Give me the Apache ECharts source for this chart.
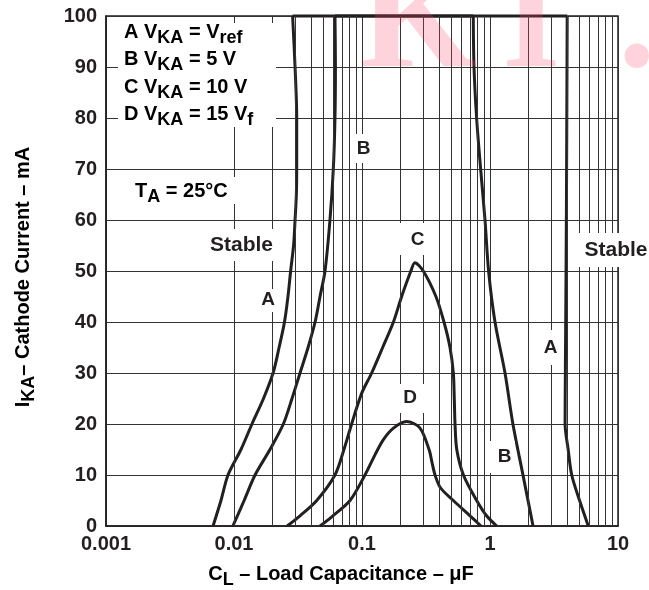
<!DOCTYPE html>
<html>
<head>
<meta charset="utf-8">
<script src="https://cdn.jsdelivr.net/npm/echarts@6/dist/echarts.min.js"></script>
<style>
  html, body { margin: 0; padding: 0; background: #fff; }
  #chart { width: 649px; height: 590px; }
</style>
</head>
<body>
<div id="chart"></div>
<script>
// decades on the log axis and their labels
const xTicks = [0.001, 0.01, 0.1, 1, 10];
const xTickLabels = ['0.001', '0.01', '0.1', '1', '10'];
const minorSteps = [2, 3, 4, 5, 6, 7, 8, 9];

// stability boundaries [C (uF), I (mA)]
const aLeft = [[0.00686, 0], [0.00791, 5], [0.00898, 10], [0.01134, 15], [0.01382, 20], [0.0170, 25],
  [0.0202, 30], [0.0225, 35], [0.0248, 40], [0.0264, 45], [0.0277, 50], [0.0292, 55], [0.0300, 60],
  [0.0307, 65], [0.0309, 70], [0.0309, 80], [0.0300, 90], [0.0287, 100]];
const aRight = [[4.01, 100], [3.95, 60], [3.88, 30], [3.86, 20], [4.08, 15], [4.35, 10], [5.01, 5], [5.86, 0]];
const bLeft = [[0.0098, 0], [0.0120, 5], [0.0146, 10], [0.0191, 15], [0.0243, 20], [0.0284, 25],
  [0.0328, 30], [0.0379, 35], [0.0430, 40], [0.0470, 45], [0.0514, 50], [0.0562, 60], [0.0597, 70],
  [0.0615, 80], [0.0620, 90], [0.0615, 100]];
const bRight = [[0.740, 100], [0.750, 90], [0.786, 80], [0.845, 70], [0.914, 60], [0.975, 50],
  [1.094, 40], [1.31, 30], [1.51, 20], [1.81, 10], [2.17, 0]];
const cCurve = [[0.0260, 0], [0.0328, 2], [0.0443, 5], [0.0615, 10], [0.0723, 15], [0.083, 20],
  [0.0994, 26], [0.119, 30], [0.145, 35], [0.176, 40], [0.204, 45], [0.241, 50], [0.259, 51.6],
  [0.301, 50], [0.378, 45], [0.437, 40], [0.487, 35], [0.517, 30], [0.526, 25], [0.533, 20],
  [0.550, 15], [0.620, 10], [0.787, 5], [0.94, 2], [1.128, 0]];
const dCurve = [[0.047, 0], [0.058, 1.8], [0.0806, 5], [0.1055, 10], [0.126, 13.9], [0.1465, 16.9],
  [0.176, 19.2], [0.223, 20.5], [0.284, 19.2], [0.336, 14.8], [0.352, 12.5], [0.372, 10], [0.41, 7.5],
  [0.517, 5], [0.698, 2], [0.85, 0]];

const INK = '#231f20';
const FONT = '"Liberation Sans", Arial, sans-serif';

const minorX = [];
xTicks.slice(0, -1).forEach(d => minorSteps.forEach(m => minorX.push(+(d * m).toPrecision(3))));

function curve(data, extra) {
  return Object.assign({
    type: 'line', data: data, showSymbol: false, smooth: 0.3, clip: false, silent: true,
    lineStyle: { color: INK, width: 3 }, z: 3
  }, extra || {});
}

// rich styles: n = normal text, s = subscript; padding pushes s down relative to n
function richStyles(size) {
  return {
    n: { fontSize: size, fontWeight: 'bold', fontFamily: FONT, color: INK, padding: [0, 0, 7, 0], verticalAlign: 'top' },
    s: { fontSize: size - 2, fontWeight: 'bold', fontFamily: FONT, color: INK, padding: [7, 0, 0, 0], verticalAlign: 'top' }
  };
}
const rich = richStyles(20);
const richTitle = richStyles(20);

function box(x, y, w, h) {
  return { type: 'rect', z: 50, silent: true, shape: { x: x, y: y, width: w, height: h }, style: { fill: '#fff' } };
}
function label(x, y, text, size) {
  return { type: 'text', z: 60, silent: true, x: x, y: y,
    style: { text: text, fill: INK, font: 'bold ' + size + 'px ' + FONT, align: 'center', verticalAlign: 'middle' } };
}
function richLabel(x, yMid, text) {
  return { type: 'text', z: 60, silent: true, x: x, y: yMid - 10,
    style: { text: text, rich: rich, align: 'left', verticalAlign: 'top' } };
}
function title(x, y, text, rotation) {
  return { type: 'text', z: 60, silent: true, x: x, y: y, rotation: rotation,
    style: { text: text, rich: richTitle, align: 'center', verticalAlign: 'middle' } };
}
function mark(x, ch) {
  return { type: 'text', z: 100, silent: true, x: x, y: -48,
    style: { text: ch, fill: 'rgba(255, 70, 105, 0.24)', font: 'bold 150px "Liberation Serif", serif',
      align: 'left', verticalAlign: 'top' } };
}

const chart = echarts.init(document.getElementById('chart'));
chart.setOption({
  animation: false,
  grid: { left: 106, right: 31, top: 16, bottom: 64, show: true, borderColor: INK, borderWidth: 1.5,
    outerBoundsMode: 'none' },
  xAxis: {
    type: 'log', logBase: 10, min: xTicks[0], max: xTicks[xTicks.length - 1],
    axisLine: { show: true, lineStyle: { color: INK, width: 1.5 } },
    axisTick: { show: false },
    splitLine: { show: true, lineStyle: { color: '#333', width: 1 } },
    axisLabel: {
      color: INK, fontSize: 20, fontWeight: 'bold', fontFamily: FONT, margin: 8,
      formatter: v => xTickLabels[Math.round(Math.log10(v)) + 3]
    }
  },
  yAxis: {
    type: 'value', min: 0, max: 100, interval: 10,
    axisLine: { show: true, lineStyle: { color: INK, width: 1.5 } },
    axisTick: { show: false },
    splitLine: { show: true, lineStyle: { color: '#333', width: 1 } },
    axisLabel: { color: INK, fontSize: 20, fontWeight: 'bold', fontFamily: FONT, margin: 9 }
  },
  series: [
    curve(aLeft, {
      markLine: {
        silent: true, symbol: 'none', animation: false,
        label: { show: false },
        lineStyle: { color: '#333', width: 1, type: 'solid' },
        data: minorX.map(v => ({ xAxis: v }))
      }
    }),
    curve([aLeft[aLeft.length - 1], aRight[0]], { smooth: false }),
    curve(aRight),
    curve(bLeft),
    curve([bLeft[bLeft.length - 1], bRight[0]], { smooth: false }),
    curve(bRight),
    curve(cCurve),
    curve(dCurve)
  ],
  graphic: [
    box(118, 23, 158, 104),
    box(131, 177, 105, 27),
    box(195, 229, 81, 32),
    box(258, 289, 19, 23),
    box(351, 134, 26, 29),
    box(399, 223, 34, 32),
    box(397, 384, 27, 29),
    box(486, 441, 29, 32),
    box(539, 330, 23, 35),
    box(578, 233, 71, 34),
    richLabel(124, 32.5, '{n|A V}{s|KA}{n| = V}{s|ref}'),
    richLabel(124, 59, '{n|B V}{s|KA}{n| = 5 V}'),
    richLabel(124, 87.5, '{n|C V}{s|KA}{n| = 10 V}'),
    richLabel(124, 114, '{n|D V}{s|KA}{n| = 15 V}{s|f}'),
    richLabel(135, 191.5, '{n|T}{s|A}{n| = 25°C}'),
    label(241.5, 245, 'Stable', 21),
    label(616, 250.5, 'Stable', 21),
    label(268, 300, 'A', 19),
    label(363.5, 148.5, 'B', 19),
    label(417.5, 239.5, 'C', 19),
    label(410, 397.5, 'D', 19),
    label(504.5, 456.5, 'B', 19),
    label(550.5, 347.5, 'A', 19),
    title(341, 577.5, '{n|C}{s|L}{n| – Load Capacitance – μF}', 0),
    title(27, 277, '{n|I}{s|KA}{n|– Cathode Current – mA}', Math.PI / 2),
    mark(360, 'K'),
    mark(502, 'I'),
    mark(618, '.')
  ]
});
</script>
</body>
</html>
